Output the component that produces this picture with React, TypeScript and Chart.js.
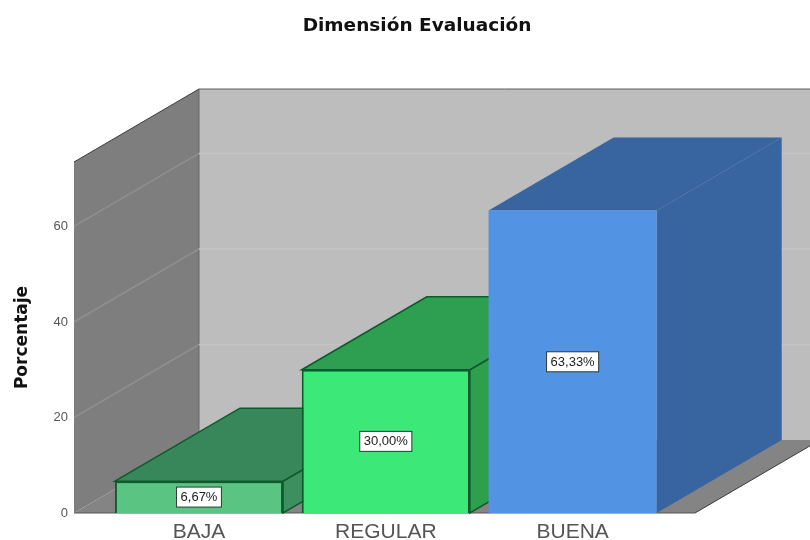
import React, { useEffect, useRef } from "react";
import { Chart, registerables } from "chart.js";

Chart.register(...registerables);

const categories = ["BAJA", "REGULAR", "BUENA"];
const percentages = [6.67, 30.0, 63.33];
const valueLabels = ["6,67%", "30,00%", "63,33%"];
const frontColors = ["#5ac583", "#3be878", "#5293e3"];
const depthTopColors = ["#38875a", "#2e9f50", "#38659f"];
const depthSideColors = ["#3d8f5e", "#2ea04c", "#38659f"];
const edgeColors = ["#0d5a2c", "#0d5a2c", "#5293e3"];
const edgeWidths = [2, 2, 0];
const yTicks = [0, 20, 40, 60];

// Oblique projection offset of the box depth, in canvas pixels.
const DEPTH_X = 125;
const DEPTH_Y = 73;

type Pt = [number, number];

function poly(ctx: CanvasRenderingContext2D, pts: Pt[], fill: string, stroke?: string, lw = 1) {
  ctx.beginPath();
  pts.forEach(([x, y], i) => (i ? ctx.lineTo(x, y) : ctx.moveTo(x, y)));
  ctx.closePath();
  ctx.fillStyle = fill;
  ctx.fill();
  if (stroke) {
    ctx.strokeStyle = stroke;
    ctx.lineWidth = lw;
    ctx.stroke();
  }
}

function seg(ctx: CanvasRenderingContext2D, a: Pt, b: Pt, color: string, lw = 1) {
  ctx.beginPath();
  ctx.moveTo(a[0], a[1]);
  ctx.lineTo(b[0], b[1]);
  ctx.strokeStyle = color;
  ctx.lineWidth = lw;
  ctx.stroke();
}

// Walls, floor and the depth faces of each bar, painted behind the bar fronts.
const boxPlugin = {
  id: "box3d",
  beforeDatasetsDraw(chart: any) {
    const { ctx, chartArea: a, scales } = chart;
    const y = scales.y;
    const dx = DEPTH_X;
    const dy = DEPTH_Y;
    const w = chart.width;

    ctx.save();
    // back wall
    poly(ctx, [[a.left + dx, a.top - dy], [w, a.top - dy], [w, a.bottom - dy], [a.left + dx, a.bottom - dy]], "#bdbdbd");
    seg(ctx, [a.left + dx, a.top - dy], [w, a.top - dy], "#5f5f5f", 1);
    // left wall
    poly(ctx, [[a.left, a.top], [a.left + dx, a.top - dy], [a.left + dx, a.bottom - dy], [a.left, a.bottom]], "#7e7e7e");
    seg(ctx, [a.left + dx, a.top - dy], [a.left + dx, a.bottom - dy], "#666666", 1);
    seg(ctx, [a.left, a.top], [a.left + dx, a.top - dy], "#3c3c3c", 1);
    // floor
    poly(ctx, [[a.left, a.bottom], [a.right, a.bottom], [a.right + dx, a.bottom - dy], [a.left + dx, a.bottom - dy]], "#848484");
    seg(ctx, [a.right, a.bottom], [a.right + dx, a.bottom - dy], "#3a3a3a", 1);
    seg(ctx, [a.left, a.bottom], [a.right, a.bottom], "#555555", 1);

    // gridlines carried across both walls
    yTicks.slice(1).forEach((t) => {
      const py = y.getPixelForValue(t);
      seg(ctx, [a.left, py], [a.left + dx, py - dy], "#8f8f8f", 1.5);
      seg(ctx, [a.left + dx, py - dy], [w, py - dy], "#c4c4c4", 1.5);
    });

    // depth faces of the bars, left to right
    const meta = chart.getDatasetMeta(0);
    meta.data.forEach((bar: any, i: number) => {
      const half = bar.width / 2;
      const l = bar.x - half;
      const r = bar.x + half;
      const t = bar.y;
      const b = bar.base;
      const outline = edgeWidths[i] ? edgeColors[i] : undefined;
      poly(ctx, [[r, t], [r + dx, t - dy], [r + dx, b - dy], [r, b]], depthSideColors[i], outline, 1.5);
      poly(ctx, [[l, t], [l + dx, t - dy], [r + dx, t - dy], [r, t]], depthTopColors[i], outline, 1.5);
    });
    ctx.restore();
  },
  afterDatasetsDraw(chart: any) {
    const { ctx } = chart;
    const meta = chart.getDatasetMeta(0);
    ctx.save();
    ctx.font = "13px 'Liberation Sans'";
    ctx.textAlign = "center";
    ctx.textBaseline = "middle";
    meta.data.forEach((bar: any, i: number) => {
      const cy = (bar.y + bar.base) / 2;
      const tw = ctx.measureText(valueLabels[i]).width + 8;
      const h = 20;
      ctx.fillStyle = "#ffffff";
      ctx.fillRect(bar.x - tw / 2, cy - h / 2, tw, h);
      ctx.strokeStyle = "#2c3a30";
      ctx.lineWidth = 1;
      ctx.strokeRect(bar.x - tw / 2, cy - h / 2, tw, h);
      ctx.fillStyle = "#222222";
      ctx.fillText(valueLabels[i], bar.x, cy + 0.5);
    });
    ctx.restore();
  },
  afterLayout(chart: any) {
    // the heading sits over the depth-shifted plot rather than the canvas middle
    chart.titleBlock.left = 24;
    chart.titleBlock.right = 810;
  },
};

export default function App() {
  const ref = useRef<HTMLCanvasElement | null>(null);

  useEffect(() => {
    const chart = new Chart(ref.current as HTMLCanvasElement, {
      type: "bar",
      data: {
        datasets: [
          {
            label: "Porcentaje",
            data: percentages.map((v, i) => ({ x: i, y: v })),
            backgroundColor: frontColors,
            borderColor: edgeColors,
            borderWidth: edgeWidths,
            categoryPercentage: 1,
            barPercentage: 0.9,
          },
        ],
      },
      options: {
        animation: false,
        responsive: false,
        layout: { padding: { left: 0, right: 115, top: 0, bottom: 0 } },
        plugins: {
          legend: { display: false },
          tooltip: { enabled: false },
          title: {
            display: true,
            text: "Dimensión Evaluación",
            color: "#111111",
            font: { family: "'DejaVu Sans'", size: 18.5, weight: "bold" },
            padding: { top: 15, bottom: 124.8 },
          },
        },
        scales: {
          x: {
            type: "linear",
            offset: false,
            min: -0.669,
            max: 2.655,
            grid: { display: false, offset: false, drawTicks: false },
            border: { display: false },
            afterBuildTicks(scale: any) {
              scale.ticks = categories.map((_, i) => ({ value: i }));
            },
            afterFit(scale: any) {
              scale.height = 27;
            },
            ticks: {
              autoSkip: false,
              maxRotation: 0,
              padding: 7,
              color: "#555555",
              font: { family: "'Liberation Sans'", size: 21 },
              callback: (v: any) => categories[v] ?? "",
            },
          },
          y: {
            min: 0,
            max: 73.5,
            grid: { display: false, drawTicks: false },
            border: { display: false },
            afterBuildTicks(scale: any) {
              scale.ticks = yTicks.map((value) => ({ value }));
            },
            afterFit(scale: any) {
              scale.width = 74;
            },
            title: {
              display: true,
              text: "Porcentaje",
              color: "#111111",
              font: { family: "'DejaVu Sans'", size: 17, weight: "bold" },
              padding: { top: 12, bottom: 0 },
            },
            ticks: {
              padding: 6,
              color: "#555555",
              font: { family: "'Liberation Sans'", size: 13 },
            },
          },
        },
      },
      plugins: [boxPlugin],
    } as any);
    return () => chart.destroy();
  }, []);

  return (
    <canvas
      ref={ref}
      width={810}
      height={540}
      style={{ position: "absolute", left: 0, top: 0, width: 810, height: 540 }}
    />
  );
}
